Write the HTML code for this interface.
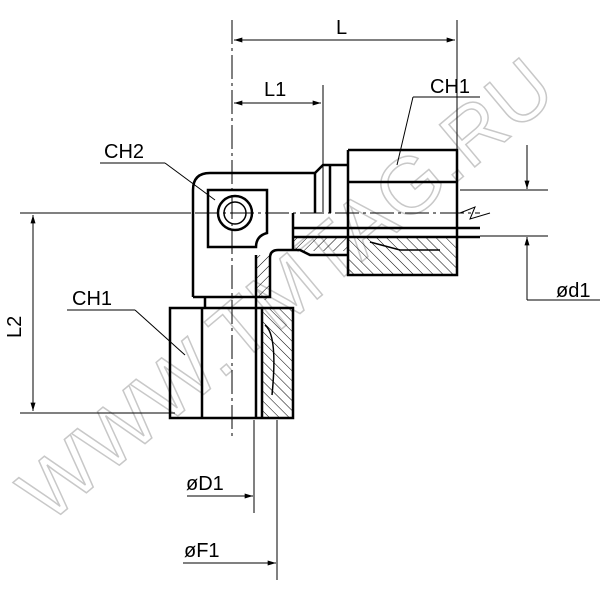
<!DOCTYPE html>
<html><head><style>body{margin:0;background:#fff}svg{display:block}</style></head>
<body>
<svg width="600" height="600" viewBox="0 0 600 600" xmlns="http://www.w3.org/2000/svg" font-family="Liberation Sans, sans-serif">
<defs>
<pattern id="h" width="7" height="7" patternUnits="userSpaceOnUse" patternTransform="rotate(45)"><line x1="0" y1="0" x2="0" y2="7" stroke="#000" stroke-width="1"/></pattern>
<pattern id="h2" width="7" height="7" patternUnits="userSpaceOnUse" patternTransform="rotate(-45)"><line x1="0" y1="0" x2="0" y2="7" stroke="#000" stroke-width="1"/></pattern>
<marker id="a" viewBox="0 0 10 6" refX="10" refY="3" markerWidth="16" markerHeight="5" orient="auto-start-reverse" markerUnits="userSpaceOnUse"><path d="M0,0 L10,3 L0,6z" fill="#000"/></marker>
</defs>
<!-- watermark -->
<text x="0" y="0" transform="translate(48,525) rotate(-40)" font-size="80" fill="none" stroke="#c8c8c8" stroke-width="1.5" letter-spacing="1">WWW.TMTAG.RU</text>

<g stroke="#000" fill="none">
<line x1="232" y1="20" x2="232" y2="440" stroke-width="1" stroke-dasharray="24,4,3,4"/>
<line x1="20" y1="213" x2="480" y2="213" stroke-width="1" stroke-dasharray="24,4,3,4"/>
<g stroke-width="1">
<line x1="232" y1="20" x2="232" y2="40"/>
<line x1="457" y1="20" x2="457" y2="150"/>
<line x1="234" y1="40" x2="455" y2="40" marker-start="url(#a)" marker-end="url(#a)"/>
<line x1="323" y1="85" x2="323" y2="212"/>
<line x1="234" y1="103" x2="321" y2="103" marker-start="url(#a)" marker-end="url(#a)"/>
<line x1="413" y1="97" x2="480" y2="97"/><line x1="413" y1="97" x2="397" y2="165"/>
<line x1="460" y1="190" x2="548" y2="190"/><line x1="480" y1="236" x2="548" y2="236"/>
<line x1="527" y1="145" x2="527" y2="189" marker-end="url(#a)"/>
<line x1="527" y1="300" x2="527" y2="237" marker-end="url(#a)"/>
<line x1="527" y1="300" x2="600" y2="300"/>
<line x1="20" y1="213" x2="190" y2="213"/>
<line x1="20" y1="413" x2="175" y2="413"/>
<line x1="33" y1="215" x2="33" y2="411" marker-start="url(#a)" marker-end="url(#a)"/>
<line x1="100" y1="163" x2="165" y2="163"/><line x1="165" y1="163" x2="215" y2="200"/>
<line x1="67" y1="310" x2="135" y2="310"/><line x1="135" y1="310" x2="185" y2="355"/>
<line x1="254" y1="420" x2="254" y2="513"/>
<line x1="187" y1="496" x2="253" y2="496" marker-end="url(#a)"/>
<line x1="277" y1="420" x2="277" y2="580"/>
<line x1="183" y1="563" x2="276" y2="563" marker-end="url(#a)"/>
<polyline points="460,213 475,207 470,219 490,213"/>
</g>
<rect x="256" y="255" width="14" height="45" fill="url(#h)" stroke="none"/>
<rect x="293" y="237" width="55" height="14" fill="url(#h)" stroke="none"/>
<rect x="348" y="237" width="109" height="38" fill="url(#h2)" stroke="none"/>
<rect x="262" y="308" width="31" height="110" fill="url(#h2)" stroke="none"/>
<g stroke-width="2.5">
<path d="M193,297 L193,190 Q193,173 210,173 L315,173 L315,213"/>
<path d="M193,297 L270,297 L270,258 Q270,250 278,250 L300,250 L310,255 L348,255"/>
<path d="M208,190 L267,190 L267,233 Q256,236 256,247 L208,247 Z"/>
<circle cx="235" cy="213" r="17" stroke-width="2.5"/>
<circle cx="235" cy="213" r="11" stroke-width="1.5"/>
<path d="M315,173 L323,165 L348,165"/>
<line x1="330" y1="165" x2="330" y2="213"/>
<path d="M348,150 L457,150 L457,275 L348,275 L348,150"/>
<line x1="348" y1="182" x2="457" y2="182"/>
<line x1="293" y1="228" x2="480" y2="228"/>
<line x1="293" y1="237" x2="480" y2="237"/>
<line x1="293" y1="213" x2="293" y2="250"/>
<path d="M370,242 L400,250 L440,250" stroke-width="1.5"/>
<path d="M170,308 L293,308 L293,418 L170,418 Z"/>
<line x1="202" y1="308" x2="202" y2="418"/>
<line x1="256" y1="255" x2="256" y2="418"/>
<line x1="262" y1="308" x2="262" y2="418"/>
<line x1="205" y1="297" x2="205" y2="308"/>
<path d="M265,325 Q278,335 272,395" stroke-width="1.5"/>
</g>
</g>
<g font-size="20" fill="#000">
<text x="336" y="34">L</text>
<text x="264" y="96">L1</text>
<text x="430" y="93">CH1</text>
<text x="104" y="158">CH2</text>
<text x="72" y="305">CH1</text>
<text x="556" y="297">ød1</text>
<text x="186" y="490">øD1</text>
<text x="184" y="557">øF1</text>
<text x="0" y="0" transform="translate(21,338) rotate(-90)">L2</text>
</g>
</svg>
</body></html>
